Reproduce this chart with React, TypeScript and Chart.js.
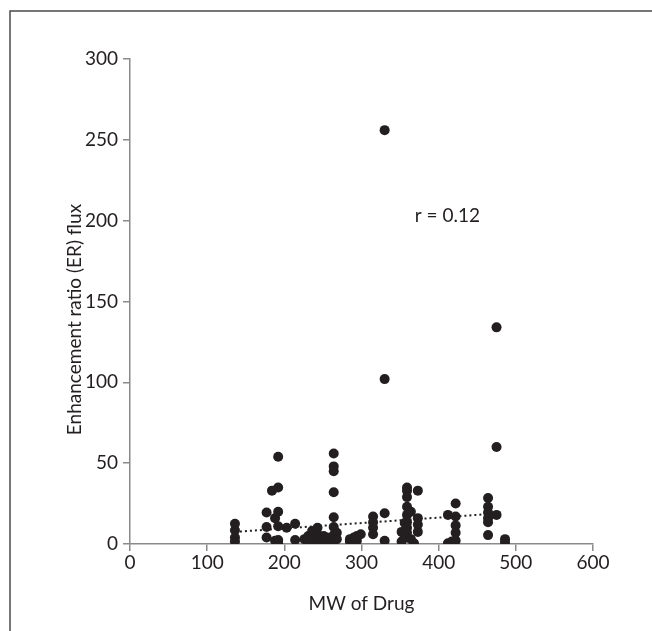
import React, { useEffect, useRef } from "react";
import { Chart, registerables } from "chart.js";

Chart.register(...registerables);

// Molecular weight of drug (x) and enhancement ratio flux (y)
const mwValues: number[] = [
  136, 136, 136, 136,
  177, 177, 177,
  184,
  188, 188,
  192, 192, 192, 192, 192, 192,
  203,
  214, 214,
  226,
  231, 231,
  236, 236,
  240, 240,
  243, 243,
  247, 247,
  251, 251,
  255, 255,
  260,
  264, 264, 264, 264, 264, 264, 264, 264,
  268, 268,
  285, 285,
  290, 290,
  294, 294,
  299,
  315, 315, 315, 315,
  330, 330, 330, 330,
  352, 352,
  356, 356,
  359, 359, 359, 359, 359, 359, 359, 359,
  364, 364,
  368,
  373, 373, 373, 373,
  412, 412,
  417,
  422, 422, 422, 422, 422,
  464, 464, 464, 464, 464, 464,
  475, 475, 475,
  486, 486,
];
const erValues: number[] = [
  12.5, 8.5, 4, 1.5,
  19.5, 10.5, 4,
  33,
  16, 2,
  54, 35, 20, 11, 2.5, 0.5,
  10,
  12.5, 2.5,
  3,
  5, 1,
  8, 2,
  3, 0.5,
  10, 6,
  4, 1.5,
  5, 2,
  4, 1,
  3,
  56, 48, 45, 32, 16.5, 10.5, 5.5, 1.5,
  7, 3,
  1.5, 3,
  1, 4,
  5, 2,
  6,
  17, 13.5, 10, 6,
  256, 102, 19, 2,
  1.5, 7.5,
  13, 4,
  35, 33, 29, 23, 18, 13.5, 10, 7,
  20, 3,
  0.5,
  33, 16, 12, 7.5,
  18, 0.5,
  1.5,
  25, 17, 11.5, 7, 2,
  28.5, 23, 19.5, 16, 13.5, 5.5,
  134, 60, 18,
  3, 1,
];

// Dotted linear trend line end points
const trendX: number[] = [136, 480];
const trendY: number[] = [7.5, 19];

// Axis ticks
const xTicks: number[] = [0, 100, 200, 300, 400, 500, 600];
const yTicks: number[] = [0, 50, 100, 150, 200, 250, 300];

// Correlation annotation (data coordinates)
const annotationText = "r = 0.12";
const annotationX = 369;
const annotationY = 203;

const xTitle = "MW of Drug";
const yTitle = "Enhancement ratio (ER) flux";

const FONT = "Lato, 'Open Sans', sans-serif";
const TEXT = "#231f20";
const AXIS = "#8a8a8a";
const FS = 19;

export default function App() {
  const ref = useRef<HTMLCanvasElement | null>(null);

  useEffect(() => {
    const canvas = ref.current;
    if (!canvas) return;

    const framePlugin = {
      id: "frame",
      beforeDraw(chart: any) {
        const ctx = chart.ctx;
        ctx.save();
        ctx.fillStyle = "#ffffff";
        ctx.fillRect(0, 0, chart.width, chart.height);
        ctx.strokeStyle = "#4a4a4a";
        ctx.lineWidth = 1.5;
        ctx.beginPath();
        ctx.moveTo(10, chart.height);
        ctx.lineTo(10, 11);
        ctx.lineTo(chart.width, 11);
        ctx.stroke();
        ctx.restore();
      },
    };

    const textPlugin = {
      id: "texts",
      afterDatasetsDraw(chart: any) {
        const ctx = chart.ctx;
        const xs = chart.scales.x;
        const ys = chart.scales.y;
        const area = chart.chartArea;
        ctx.save();
        ctx.font = `${FS}px ${FONT}`;
        ctx.fillStyle = TEXT;
        ctx.textAlign = "left";
        ctx.textBaseline = "middle";
        ctx.fillText(annotationText, xs.getPixelForValue(annotationX), ys.getPixelForValue(annotationY));
        // y axis title, slightly below the plot-area centre as in the reference
        ctx.translate(75, (area.top + area.bottom) / 2 + 18);
        ctx.rotate(-Math.PI / 2);
        ctx.textAlign = "center";
        ctx.fillText(yTitle, 0, 0);
        ctx.restore();
      },
    };

    const chart = new Chart(canvas, {
      type: "scatter",
      data: {
        datasets: [
          {
            label: "trend",
            type: "line",
            data: trendX.map((x, i) => ({ x, y: trendY[i] })),
            borderColor: "#231f20",
            borderWidth: 2,
            borderDash: [2, 3],
            pointRadius: 0,
            fill: false,
            order: 0,
          } as any,
          {
            label: "ER",
            data: mwValues.map((x, i) => ({ x, y: erValues[i] })),
            backgroundColor: "#231f20",
            borderWidth: 0,
            pointRadius: 5,
            pointHoverRadius: 5,
            order: 1,
          },
        ],
      },
      options: {
        responsive: false,
        animation: false,
        events: [],
        layout: { padding: { left: 0, top: 59, right: 59, bottom: 0 } },
        plugins: {
          legend: { display: false },
          tooltip: { enabled: false },
        },
        scales: {
          x: {
            type: "linear",
            min: 0,
            max: 600,
            afterBuildTicks: (scale: any) => {
              scale.ticks = xTicks.map((v) => ({ value: v }));
            },
            afterFit: (scale: any) => {
              scale.height = 87;
            },
            ticks: {
              color: TEXT,
              font: { family: FONT, size: FS },
              padding: 0,
              maxRotation: 0,
            },
            grid: {
              display: true,
              drawOnChartArea: false,
              drawTicks: true,
              tickLength: 7,
              color: AXIS,
              lineWidth: 1.5,
            },
            border: { display: true, color: AXIS, width: 1.5 },
            title: {
              display: true,
              text: xTitle,
              color: TEXT,
              font: { family: FONT, size: FS },
              padding: { top: 0, bottom: 15.5 },
            },
          },
          y: {
            type: "linear",
            min: 0,
            max: 300,
            afterBuildTicks: (scale: any) => {
              scale.ticks = yTicks.map((v) => ({ value: v }));
            },
            afterFit: (scale: any) => {
              scale.width = 130;
            },
            ticks: {
              color: TEXT,
              font: { family: FONT, size: FS },
              padding: 5,
            },
            grid: {
              display: true,
              drawOnChartArea: false,
              drawTicks: true,
              tickLength: 7,
              color: AXIS,
              lineWidth: 1.5,
            },
            border: { display: true, color: AXIS, width: 1.5 },
            title: { display: false },
          },
        },
      },
      plugins: [framePlugin, textPlugin],
    });

    return () => chart.destroy();
  }, []);

  return (
    <div style={{ position: "absolute", left: 0, top: 0, width: 652, height: 631 }}>
      <canvas ref={ref} width={652} height={631} style={{ display: "block" }} />
    </div>
  );
}
